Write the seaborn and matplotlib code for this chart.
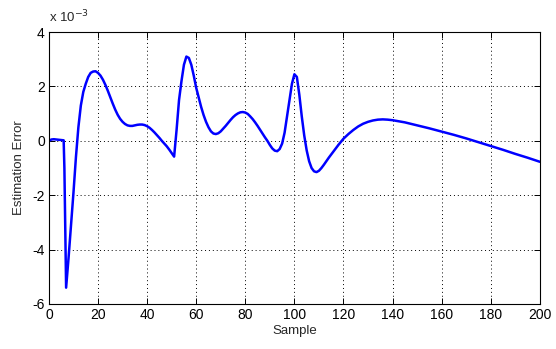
import matplotlib
matplotlib.use("Agg")
import matplotlib.pyplot as plt
import seaborn as sns
import pandas as pd

# Sample index and estimation error (in units of 1e-3)
sample = [0, 1, 2, 3, 4, 5, 6, 6.3, 7, 8, 9, 10, 11, 12, 13, 14, 15, 16, 17, 18, 19,
          20, 21, 22, 23, 24, 25, 26, 27, 28, 29, 30, 31, 32, 33, 34, 35, 36, 37, 38, 39,
          40, 41, 42, 43, 44, 45, 46, 47, 48, 49, 50, 51, 52, 53, 54, 55, 56, 57, 58, 59,
          60, 61, 62, 63, 64, 65, 66, 67, 68, 69, 70, 71, 72, 73, 74, 75, 76, 77, 78, 79,
          80, 81, 82, 83, 84, 85, 86, 87, 88, 89, 90, 91, 92, 93, 94, 95, 96, 97, 98, 99,
          100, 101, 102, 103, 104, 105, 106, 107, 108, 109, 110, 111, 112, 113, 114, 115,
          116, 117, 118, 119, 120, 122, 124, 126, 128, 130, 132, 134, 136, 138, 140, 145,
          150, 155, 160, 165, 170, 175, 180, 185, 190, 195, 200]
error_e3 = [0.0, 0.05, 0.06, 0.05, 0.04, 0.03, 0.02, -1.0, -5.4, -4.3, -3.1, -1.9, -0.6, 0.5, 1.3, 1.8, 2.1, 2.35, 2.5, 2.55, 2.56,
            2.5, 2.4, 2.25, 2.06, 1.84, 1.6, 1.37, 1.15, 0.96, 0.81, 0.7, 0.62, 0.57, 0.55, 0.55, 0.57, 0.59, 0.6, 0.6, 0.58,
            0.54, 0.48, 0.4, 0.31, 0.21, 0.11, 0.0, -0.1, -0.2, -0.32, -0.45, -0.58, 0.4, 1.5, 2.2, 2.8, 3.1, 3.05, 2.8, 2.4,
            1.95, 1.6, 1.25, 0.95, 0.7, 0.5, 0.35, 0.27, 0.25, 0.28, 0.35, 0.45, 0.55, 0.66, 0.77, 0.87, 0.95, 1.01, 1.05, 1.06,
            1.04, 0.99, 0.9, 0.8, 0.68, 0.55, 0.41, 0.27, 0.13, 0.0, -0.15, -0.28, -0.36, -0.38, -0.3, -0.1, 0.3, 0.9, 1.5, 2.1,
            2.45, 2.35, 1.7, 0.9, 0.2, -0.35, -0.75, -1.0, -1.12, -1.15, -1.1, -1.0, -0.88, -0.75, -0.62, -0.5,
            -0.38, -0.26, -0.14, -0.03, 0.08, 0.25, 0.4, 0.53, 0.63, 0.7, 0.75, 0.78, 0.79, 0.78, 0.76, 0.68,
            0.57, 0.46, 0.34, 0.22, 0.09, -0.05, -0.19, -0.33, -0.48, -0.62, -0.77]

x_ticks = [0, 20, 40, 60, 80, 100, 120, 140, 160, 180, 200]
y_ticks = [-6, -4, -2, 0, 2, 4]

df = pd.DataFrame({"Sample": sample, "Error": error_e3})

sns.set_style("white")
plt.rcParams['font.family'] = ['Liberation Sans', 'DejaVu Sans']

fig = plt.figure(figsize=(5.56, 3.49), dpi=100)
ax = fig.add_axes([0.088, 0.129, 0.883, 0.779])

sns.lineplot(data=df, x="Sample", y="Error", ax=ax, color=(0, 0, 1),
             linewidth=1.8, estimator=None, sort=False)

ax.set_xlim(0, 200)
ax.set_ylim(-6, 4)
ax.set_xticks(x_ticks)
ax.set_yticks(y_ticks)
ax.set_xticklabels([str(v) for v in x_ticks], fontsize=10)
ax.set_yticklabels([str(v) for v in y_ticks], fontsize=10)
ax.grid(True, color='black', linestyle=(0, (1, 3)), linewidth=0.7)
ax.tick_params(direction='in', length=4, width=0.7, top=True, right=True,
               bottom=True, left=True, colors='black', pad=3)
for s in ax.spines.values():
    s.set_visible(True)
    s.set_color('black')
    s.set_linewidth(0.8)

ax.set_xlabel("Sample", fontsize=9.5, labelpad=2)
ax.set_ylabel("Estimation Error", fontsize=9.5, labelpad=5)
ax.text(0.0, 1.025, r"x 10$^{-3}$", transform=ax.transAxes, fontsize=9.5,
        ha='left', va='bottom')

fig.savefig("out.png", dpi=100)
